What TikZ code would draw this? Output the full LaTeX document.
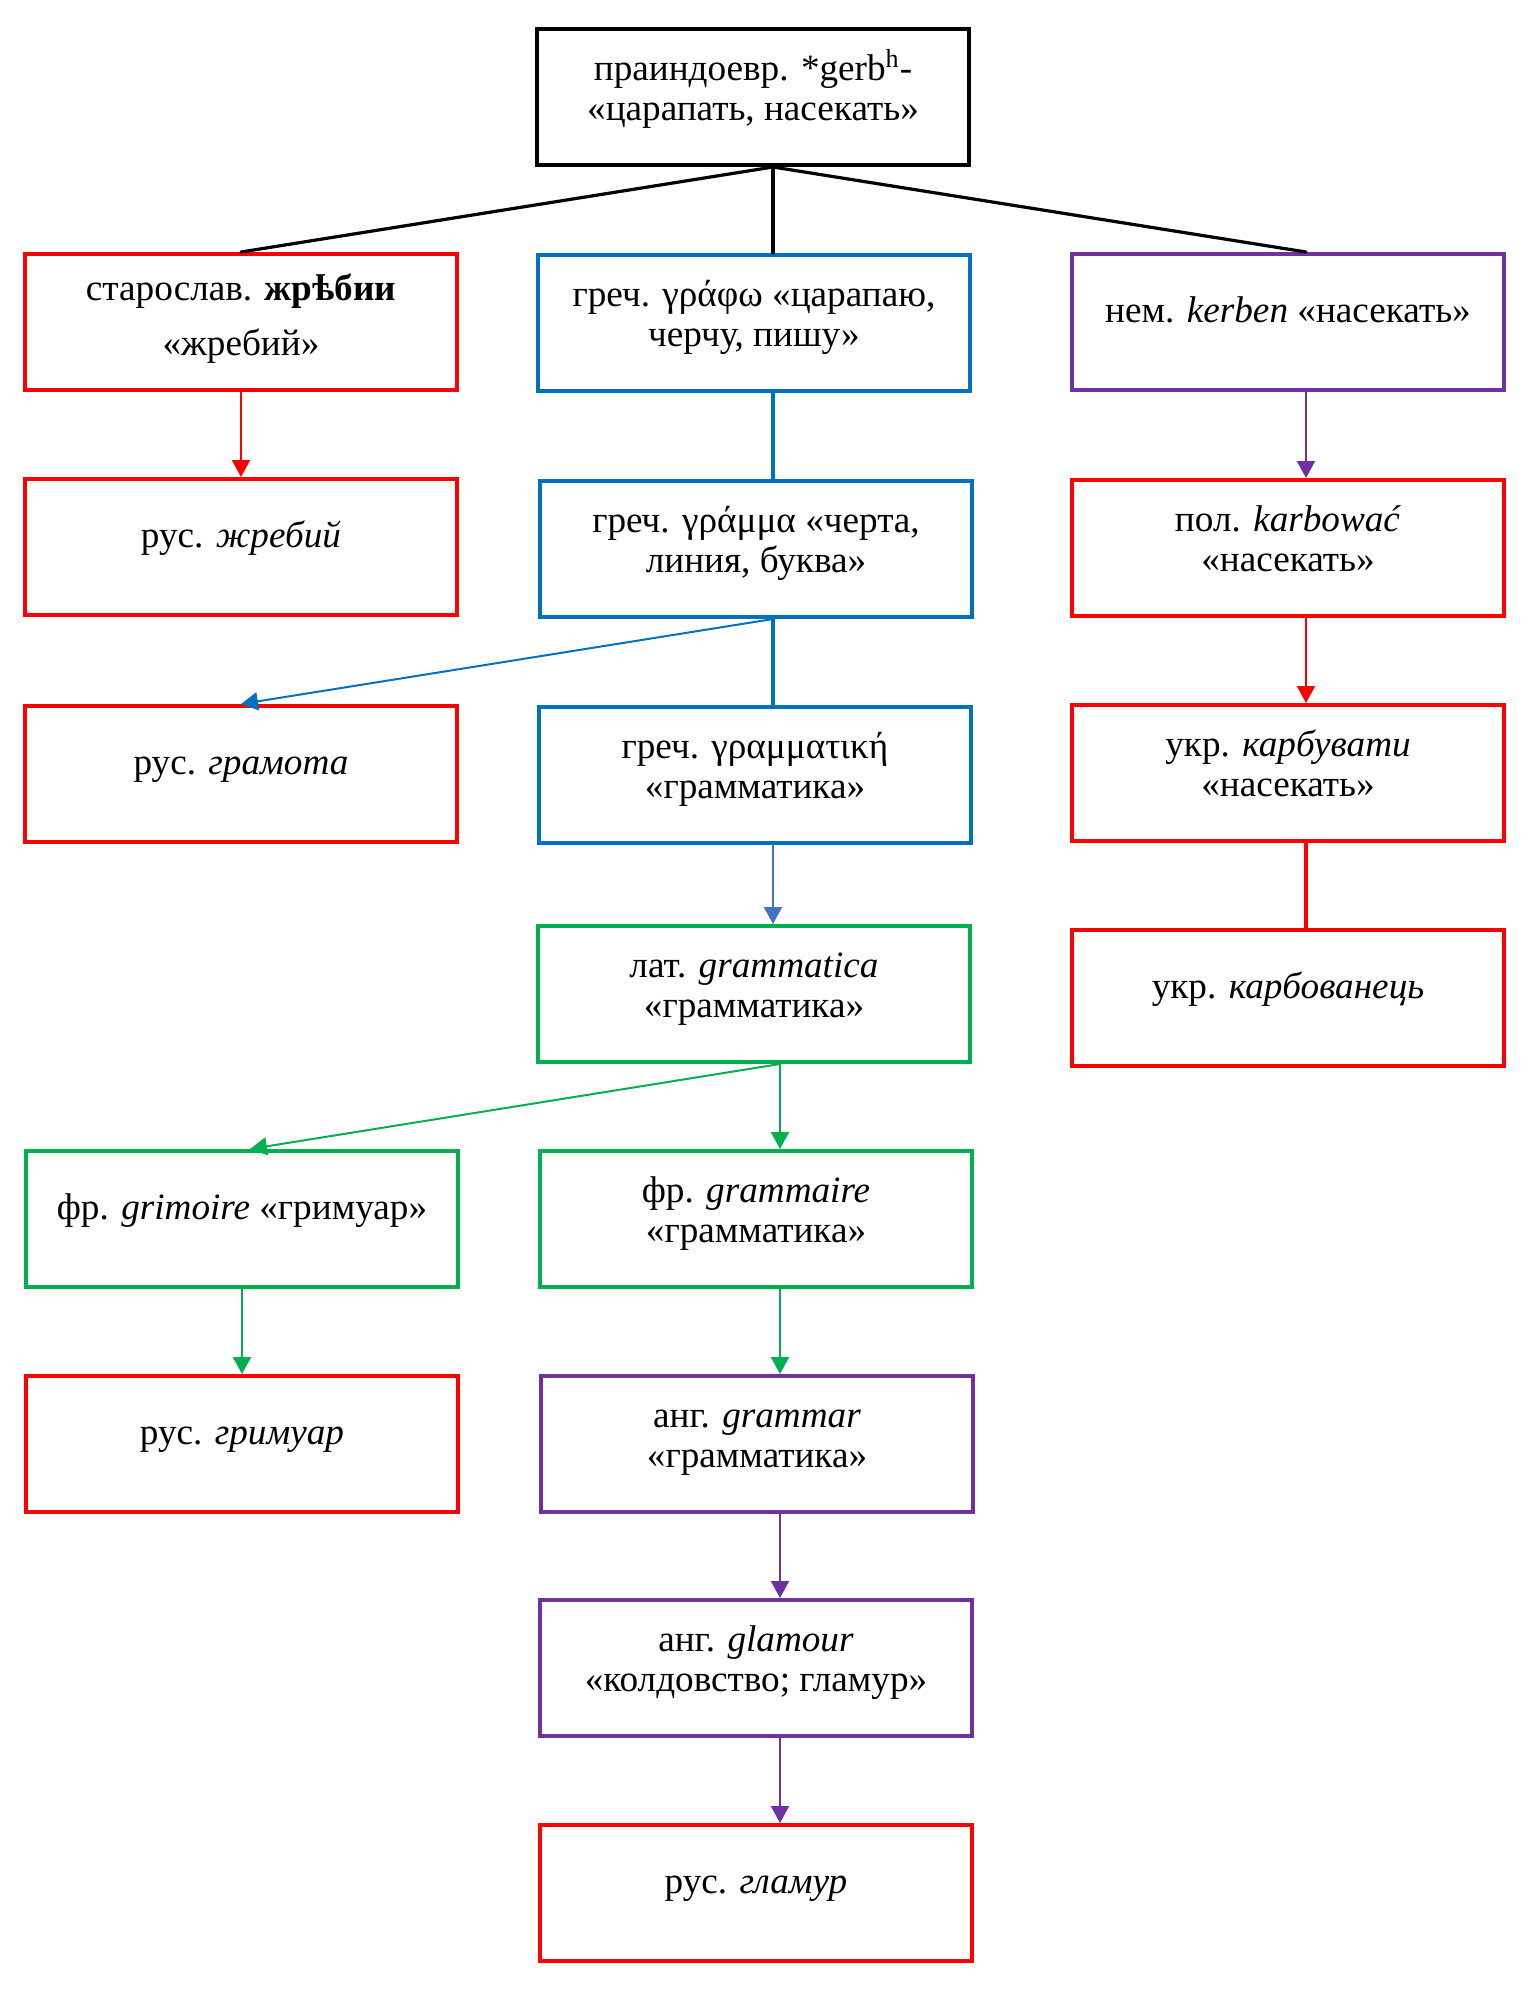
\documentclass[tikz,border=0pt]{standalone}
\usepackage{fontspec}
\setmainfont{Liberation Serif}
\usepackage{tikz}
\usetikzlibrary{arrows.meta,calc}
\definecolor{wred}{HTML}{FF0000}
\definecolor{wblue}{HTML}{0070C0}
\definecolor{wlblue}{HTML}{4472C4}
\definecolor{wgreen}{HTML}{00B050}
\definecolor{wpurple}{HTML}{7030A0}
\begin{document}
\begin{tikzpicture}[line cap=round,>={Triangle[length=8.5pt,width=9pt]},x=0.5pt,y=-0.5pt,
        wbox/.style={draw,line width=2pt,minimum width=216pt,minimum height=68pt,inner sep=0pt,align=center,font=\fontsize{18.6}{20}\selectfont},
        oneline/.style={text height=6pt,text depth=6pt},
        twoline/.style={text height=29pt,text depth=6pt},
        stem/.style={line width=1.6pt},
        arr/.style={line width=1pt,->}]
                \useasboundingbox (0,0) rectangle (1526,1994);
                % boxes
                \node [wbox,twoline,draw=black] (root) at (753,97) {праиндоевр. *gerb\textsuperscript{h}-\\«царапать, насекать»};
                \node [wbox,draw=wred,font=\fontsize{18.6}{27.5}\selectfont,text height=39pt,text depth=6pt] (slav) at (241,322) {старослав. \textbf{жрѣбии}\\«жребий»};
                \node [wbox,twoline,draw=wblue] (grapho) at (754,323) {греч. γράφω «царапаю,\\черчу, пишу»};
                \node [wbox,oneline,draw=wpurple] (kerben) at (1288,322) {нем. \textit{kerben} «насекать»};
                \node [wbox,oneline,draw=wred] (zhreby) at (241,547) {рус. \textit{жребий}};
                \node [wbox,twoline,draw=wblue] (gramma) at (756,549) {греч. γράμμα «черта,\\линия, буква»};
                \node [wbox,twoline,draw=wred] (pol) at (1288,548) {пол. \textit{karbować}\\«насекать»};
                \node [wbox,oneline,draw=wred] (gramota) at (241,774) {рус. \textit{грамота}};
                \node [wbox,twoline,draw=wblue] (grammatike) at (755,775) {греч. γραμματική\\«грамматика»};
                \node [wbox,twoline,draw=wred] (karbuvaty) at (1288,773) {укр. \textit{карбувати}\\«насекать»};
                \node [wbox,twoline,draw=wgreen] (lat) at (754,994) {лат. \textit{grammatica}\\«грамматика»};
                \node [wbox,oneline,draw=wred] (karbovanets) at (1288,998) {укр. \textit{карбованець}};
                \node [wbox,oneline,draw=wgreen] (grimoire) at (242,1219) {фр. \textit{grimoire} «гримуар»};
                \node [wbox,twoline,draw=wgreen] (grammaire) at (756,1219) {фр. \textit{grammaire}\\«грамматика»};
                \node [wbox,oneline,draw=wred] (rusgrim) at (242,1444) {рус. \textit{гримуар}};
                \node [wbox,twoline,draw=wpurple] (grammar) at (757,1444) {анг. \textit{grammar}\\«грамматика»};
                \node [wbox,twoline,draw=wpurple] (glamour) at (756,1668) {анг. \textit{glamour}\\«колдовство; гламур»};
                \node [wbox,oneline,draw=wred] (rusglam) at (756,1893) {рус. \textit{гламур}};
                % where the connectors run
                \coordinate (midup) at (773,0);
                \coordinate (midlow) at (780,0);
                \coordinate (rcol) at (1306,0);
                % connectors
                \draw [stem,black] (root.south -| midup) -- (slav.north);
                \draw [stem,black] (root.south -| midup) -- (grapho.north -| midup);
                \draw [stem,black] (root.south -| midup) -- (kerben.north -| rcol);
                \draw [arr,wred] (slav.south) -- (zhreby.north);
                \draw [stem,wblue] (grapho.south -| midup) -- (gramma.north -| midup);
                \draw [arr,wpurple] (kerben.south -| rcol) -- (pol.north -| rcol);
                \draw [arr,wblue] (gramma.south -| midup) -- (gramota.north);
                \draw [stem,wblue] (gramma.south -| midup) -- (grammatike.north -| midup);
                \draw [arr,wred] (pol.south -| rcol) -- (karbuvaty.north -| rcol);
                \draw [arr,wlblue] (grammatike.south -| midup) -- (lat.north -| midup);
                \draw [stem,wred] (karbuvaty.south -| rcol) -- (karbovanets.north -| rcol);
                \draw [arr,wgreen] (lat.south -| midlow) -- ($(grimoire.north)+(8,0)$);
                \draw [arr,wgreen] (lat.south -| midlow) -- (grammaire.north -| midlow);
                \draw [arr,wgreen] (grimoire.south) -- (rusgrim.north);
                \draw [arr,wgreen] (grammaire.south -| midlow) -- (grammar.north -| midlow);
                \draw [arr,wpurple] (grammar.south -| midlow) -- (glamour.north -| midlow);
                \draw [arr,wpurple] (glamour.south -| midlow) -- (rusglam.north -| midlow);
\end{tikzpicture}
\end{document}
